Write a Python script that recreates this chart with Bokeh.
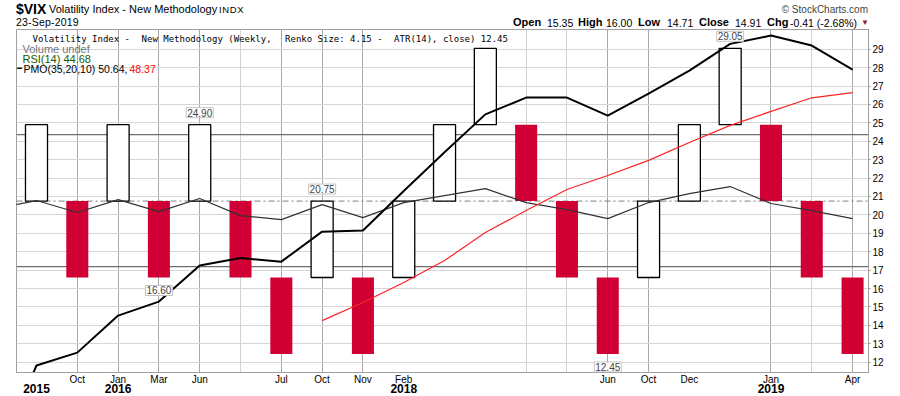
from bokeh.plotting import figure
from bokeh.layouts import column
from bokeh.models import (Range1d, FixedTicker, Span, Label, Grid, ColumnDataSource,
                          LinearAxis, Div)
from bokeh.embed import file_html
from bokeh.resources import INLINE

# ---------------- data ----------------
brick_idx = list(range(1, 22))
brick_open = [20.75, 20.75, 20.75, 20.75, 20.75, 20.75, 16.60, 16.60, 16.60, 16.60, 20.75,
              24.90, 24.90, 20.75, 16.60, 16.60, 20.75, 24.90, 24.90, 20.75, 16.60]
brick_close = [24.90, 16.60, 24.90, 16.60, 24.90, 16.60, 12.45, 20.75, 12.45, 20.75, 24.90,
               29.05, 20.75, 16.60, 12.45, 20.75, 24.90, 29.05, 20.75, 16.60, 12.45]

line_idx = list(range(0, 22))
pmo_line = [6.7, 11.82, 12.52, 14.53, 15.29, 17.25, 17.66, 17.46, 19.09, 19.15, 21.30,
            23.40, 25.46, 26.37, 26.37, 25.39, 26.59, 27.84, 29.29, 29.74, 29.20, 27.89]
rsi_line = [20.34, 20.78, 20.13, 20.83, 20.18, 20.89, 19.96, 19.74, 20.56, 19.85, 20.67,
            21.05, 21.43, 20.67, 20.29, 19.80, 20.67, 21.16, 21.54, 20.62, 20.23, 19.80]
signal_idx = list(range(8, 22))
pmo_signal = [14.26, 15.24, 16.33, 17.52, 19.04, 20.24, 21.38, 22.14, 22.96, 23.93,
              24.86, 25.62, 26.36, 26.64]

rsi_upper = 24.36
rsi_mid = 20.75
rsi_lower = 17.19

month_ticks = [2, 3, 4, 5, 7, 8, 9, 10, 15, 16, 17, 19, 21]
month_labels = ["Oct", "Jan", "Mar", "Jun", "Jul", "Oct", "Nov", "Feb", "Jun", "Oct", "Dec", "Jan", "Apr"]
year_ticks = [1, 3, 10, 19]
year_labels = ["2015", "2016", "2018", "2019"]
grid_major = [2, 3, 4, 5, 7, 8, 9, 15, 16, 19, 21]
grid_minor = [6, 13, 14, 20]
price_ticks = list(range(12, 30))

ann_idx = [5, 4, 8, 15, 18]
ann_val = [24.90, 16.60, 20.75, 12.45, 29.05]
ann_above = [True, False, True, False, True]

quote_labels = ["Open", "High", "Low", "Close", "Chg"]
quote_values = ["15.35", "16.00", "14.71", "14.91", "-0.41 (-2.68%)"]

legend_title = "Volatility Index - New Methodology (Weekly, Renko Size: 4.15 - ATR(14), close) 12.45"

RED = "#d10034"

# ---------------- geometry (page pixels) ----------------
W, H = 900, 396
HDR = 29                                # header strip height (frame top)
X0, X1 = 0.51, 21.39
Y0, Y1 = 11.44, 30.07
FL, FR, FT, FB = 16, 868, 29, 372      # frame edges in page coords
PXU = (FR - FL) / (X1 - X0)
PYU = (FB - FT) / (Y1 - Y0)


def X(px):
    return X0 + (px - FL) / PXU


def Y(py):
    return Y1 - (py - FT) / PYU


# ---------------- header (HTML strip) ----------------
FONT = "'Liberation Sans', Arial, sans-serif"


def span(left, baseline, size, s, bold=False, color="#000", extra=""):
    top = baseline - 0.8465 * size
    return (f'<span style="position:absolute;left:{left}px;top:{top:.2f}px;font-size:{size}px;'
            f'line-height:{size}px;font-weight:{"bold" if bold else "normal"};color:{color};'
            f'white-space:nowrap;{extra}">{s}</span>')


parts = [
    span(16, 13.5, 14, "$VIX", bold=True),
    span(49, 13.5, 11, "Volatility Index - New Methodology"),
    span(219, 13.5, 9.5, "INDX", extra="letter-spacing:0.6px;"),
    span(16, 26, 10.5, "23-Sep-2019", extra="letter-spacing:0.2px;"),
    (f'<span style="position:absolute;right:{W - 868}px;top:{13 - 0.8465 * 10:.2f}px;font-size:10px;'
     f'line-height:10px;color:#444;white-space:nowrap;">&copy; StockCharts.com</span>'),
]
label_x = [513, 578, 638, 699, 767]
value_x = [547, 606, 667, 735, 790]
for lx, vx, lab, val in zip(label_x, value_x, quote_labels, quote_values):
    parts.append(span(lx, 26.5, 11, lab, bold=True))
    parts.append(span(vx, 26.5, 10.5, val))
parts.append(span(861, 25.5, 8, "&#9660;", color="#8b1a3a"))

header = Div(text=(f'<div style="position:relative;width:{W}px;height:{HDR}px;'
                   f'font-family:{FONT};overflow:hidden;">' + "".join(parts) + "</div>"),
             width=W, height=HDR, margin=0, disable_math=True)

# ---------------- chart ----------------
p = figure(width=W, height=H - HDR, x_range=Range1d(X0, X1), y_range=Range1d(Y0, Y1),
           y_axis_location="right", toolbar_location=None, output_backend="svg",
           title=None, min_border_left=FL, min_border_right=W - FR,
           min_border_top=0, min_border_bottom=H - FB, margin=0)
p.background_fill_color = "white"
p.border_fill_color = "white"
p.outline_line_color = "#a0a0a0"

# month axis
p.xaxis.ticker = FixedTicker(ticks=month_ticks)
p.xaxis.major_label_overrides = {t: l for t, l in zip(month_ticks, month_labels)}
p.xaxis.major_tick_out = 0
p.xaxis.major_tick_in = 0
p.xaxis.minor_tick_out = 0
p.xaxis.minor_tick_in = 0
p.xaxis.axis_line_color = "#a0a0a0"
p.xaxis.major_label_standoff = 1
p.xaxis.major_label_text_font = "Liberation Sans"
p.xaxis.major_label_text_font_size = "10px"
p.xaxis.major_label_text_color = "black"

# year axis
year_axis = LinearAxis(ticker=FixedTicker(ticks=year_ticks),
                       major_label_overrides={t: l for t, l in zip(year_ticks, year_labels)},
                       axis_line_color=None, major_tick_line_color=None, minor_tick_line_color=None,
                       major_tick_out=0, major_tick_in=0, minor_tick_out=0, minor_tick_in=0,
                       major_label_standoff=-4, major_label_text_font="Liberation Sans",
                       major_label_text_font_size="12px", major_label_text_font_style="bold",
                       major_label_text_color="black")
p.add_layout(year_axis, "below")

# price axis
p.yaxis.ticker = FixedTicker(ticks=price_ticks)
p.yaxis.major_tick_out = 2
p.yaxis.major_tick_in = 0
p.yaxis.minor_tick_out = 0
p.yaxis.minor_tick_in = 0
p.yaxis.major_tick_line_color = "#999999"
p.yaxis.axis_line_color = "#999999"
p.yaxis.axis_line_dash = "1 2"
p.yaxis.major_label_standoff = 2
p.yaxis.major_label_text_font = "Liberation Sans"
p.yaxis.major_label_text_font_size = "10px"
p.yaxis.major_label_text_color = "black"

# grids
p.xgrid.ticker = FixedTicker(ticks=grid_major)
p.xgrid.grid_line_color = "#a8a8a8"
p.add_layout(Grid(dimension=0, ticker=FixedTicker(ticks=grid_minor), grid_line_color="#d2d2d2"))
p.ygrid.grid_line_color = "#d6d6d6"

# RSI reference lines
p.add_layout(Span(location=rsi_upper, dimension="width", line_color="#6e6e6e", line_width=1.3, level="underlay"))
p.add_layout(Span(location=rsi_lower, dimension="width", line_color="#6e6e6e", line_width=1.3, level="underlay"))
p.add_layout(Span(location=rsi_mid, dimension="width", line_color="#808080", line_width=1,
                  line_dash="6 3 2 3", level="underlay"))

# bricks
up = [(i, o, c) for i, o, c in zip(brick_idx, brick_open, brick_close) if c > o]
dn = [(i, o, c) for i, o, c in zip(brick_idx, brick_open, brick_close) if c < o]
src_up = ColumnDataSource(dict(x=[u[0] for u in up], top=[u[2] for u in up], bottom=[u[1] for u in up]))
src_dn = ColumnDataSource(dict(x=[d[0] for d in dn], top=[d[1] for d in dn], bottom=[d[2] for d in dn]))
p.vbar(x="x", top="top", bottom="bottom", width=0.54, source=src_up,
       fill_color="white", line_color="black", line_width=1.3)
p.vbar(x="x", top="top", bottom="bottom", width=0.54, source=src_dn,
       fill_color=RED, line_color=None)

# indicator lines
p.line(line_idx, rsi_line, line_color="#333333", line_width=1.2)
p.line(signal_idx, pmo_signal, line_color="#ff2222", line_width=1.2)
p.line(line_idx, pmo_line, line_color="black", line_width=2)

# value boxes
for i, v, above in zip(ann_idx, ann_val, ann_above):
    p.add_layout(Label(x=i, y=v, text=f"{v:.2f}", text_font="Liberation Sans", text_font_size="10px",
                       text_align="center", text_baseline="bottom" if above else "top",
                       y_offset=7 if above else -8, background_fill_color="white",
                       border_line_color="#c4c4c4", padding=1))


def txt(px, py, s, size, color="black", bold=False, font="Liberation Sans", align="left"):
    p.add_layout(Label(x=X(px), y=Y(py), text=s, text_font=font, text_font_size=size,
                       text_color=color, text_font_style="bold" if bold else "normal",
                       text_align=align, text_baseline="alphabetic"))


# in-chart legend: the monospaced title is laid out on a 5.74px character grid,
# written in word groups so that its overall width follows the original
CHAR_W = 5.74
starts = [0, 19, 44, 63, len(legend_title)]
for a, b in zip(starts[:-1], starts[1:]):
    txt(32 + a * CHAR_W, 38.3, legend_title[a:b].rstrip(), "9px", font="DejaVu Sans Mono")
txt(22, 48.8, "Volume undef", "11px", color="#777777")
txt(22, 58.8, "RSI(14) 44.68", "11px", color="#215b00")
txt(23, 68.3, "PMO(35,20,10) 50.64, ", "10.5px")
txt(129, 68.3, "48.37", "10.5px", color="#ff0000")
txt(16.5, 68.3, "\u2501", "8px")

layout = column(header, p, spacing=0, margin=0)
open("out.html", "w").write(file_html(layout, INLINE))
